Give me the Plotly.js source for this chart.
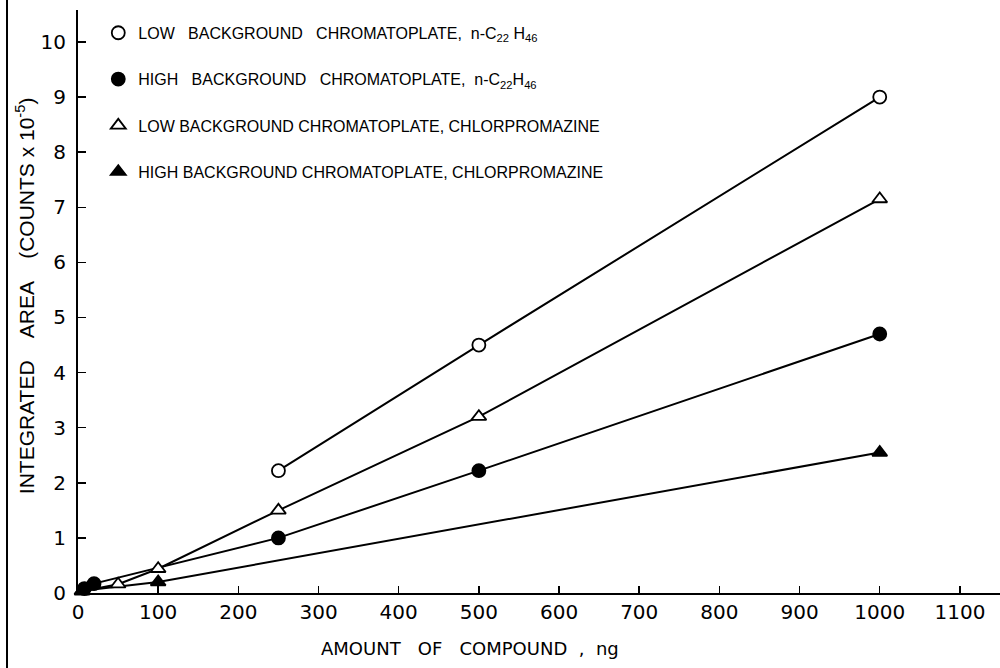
<!DOCTYPE html>
<html>
<head>
<meta charset="utf-8">
<script src="https://cdn.plot.ly/plotly-3.0.1.min.js"></script>
<style>html,body{margin:0;padding:0;background:#fff;}#chart{width:1000px;height:668px;}</style>
</head>
<body>
<div id="chart"></div>
<script>
// Data
var seriesNames = [
  "LOW   BACKGROUND   CHROMATOPLATE,  n-C<sub>22</sub> H<sub>46</sub>",
  "HIGH   BACKGROUND   CHROMATOPLATE,  n-C<sub>22</sub>H<sub>46</sub>",
  "LOW BACKGROUND CHROMATOPLATE, CHLORPROMAZINE",
  "HIGH BACKGROUND CHROMATOPLATE, CHLORPROMAZINE"
];
var lowC22_x = [250, 500, 1000];
var lowC22_y = [2.22, 4.5, 9.0];
var highC22_x = [8, 20, 250, 500, 1000];
var highC22_y = [0.08, 0.17, 1.0, 2.22, 4.7];
var lowCPZ_x = [5, 50, 100, 250, 500, 1000];
var lowCPZ_y = [0.03, 0.16, 0.44, 1.5, 3.2, 7.15];
var highCPZ_x = [5, 100, 1000];
var highCPZ_y = [0.04, 0.2, 2.55];

var xTicks = [0,100,200,300,400,500,600,700,800,900,1000,1100];
var xTickText = ["0","100","200","300","400","500","600","700","800","900","1000","1100"];
var yTicks = [0,1,2,3,4,5,6,7,8,9,10];
var yTickText = ["0","1","2","3","4","5","6","7","8","9","10"];

var xs = [lowC22_x, highC22_x, lowCPZ_x, highCPZ_x];
var ys = [lowC22_y, highC22_y, lowCPZ_y, highCPZ_y];
var symbols = ["circle", "circle", "triangle-up", "triangle-up"];
var fills = ["white", "black", "white", "black"];

var traces = [];
for (var i = 0; i < 4; i++) {
  traces.push({
    x: xs[i], y: ys[i], mode: "lines", type: "scatter",
    line: {color: "black", width: 2}, showlegend: false, hoverinfo: "skip",
    cliponaxis: false
  });
}
for (var j = 0; j < 4; j++) {
  traces.push({
    x: xs[j], y: ys[j], mode: "markers", type: "scatter", name: seriesNames[j],
    legendgroup: "g" + j,
    marker: {symbol: symbols[j], size: 13, color: fills[j], line: {color: "black", width: 1.8}},
    cliponaxis: false
  });
}

var layout = {
  width: 1000, height: 668,
  margin: {l: 78, r: 0, t: 10, b: 75},
  paper_bgcolor: "white", plot_bgcolor: "white",
  font: {family: "DejaVu Sans, sans-serif", color: "black"},
  showlegend: true,
  legend: {
    x: 0.022, y: 0.99, xanchor: "left", yanchor: "top",
    font: {family: "Liberation Sans, Arial, sans-serif", size: 16, color: "black"},
    tracegroupgap: 22.5, bgcolor: "rgba(0,0,0,0)", borderwidth: 0
  },
  xaxis: {
    range: [0, 1150], tickvals: xTicks, ticktext: xTickText,
    ticks: "inside", ticklen: 7, tickwidth: 1.5, tickcolor: "black",
    showline: true, linecolor: "black", linewidth: 2,
    showgrid: false, zeroline: false,
    tickfont: {family: "DejaVu Sans, sans-serif", size: 20, color: "black"}
  },
  yaxis: {
    range: [0, 10.58], tickvals: yTicks, ticktext: yTickText,
    ticks: "inside", ticklen: 8, tickwidth: 1.5, tickcolor: "black",
    showline: true, linecolor: "black", linewidth: 2,
    showgrid: false, zeroline: false, ticklabelstandoff: 6,
    tickfont: {family: "DejaVu Sans, sans-serif", size: 20, color: "black"}
  },
  annotations: [
    {
      text: "INTEGRATED    AREA    (COUNTS x 10<sup>-5</sup>)",
      xref: "paper", yref: "paper", x: -0.058, y: 0.51, textangle: -90,
      showarrow: false, xanchor: "center", yanchor: "middle",
      font: {family: "Liberation Sans, Arial, sans-serif", size: 21, color: "black"}
    },
    {
      text: "AMOUNT   OF   COMPOUND  ,  ng",
      xref: "paper", yref: "paper", x: 0.425, y: -0.095,
      showarrow: false, xanchor: "center", yanchor: "middle",
      font: {family: "DejaVu Sans, sans-serif", size: 18, color: "black"}
    }
  ],
  shapes: [
    {type: "line", xref: "paper", yref: "paper", x0: -0.077, x1: -0.077, y0: -0.13, y1: 1.02,
     line: {color: "black", width: 2}}
  ]
};

Plotly.newPlot("chart", traces, layout, {displayModeBar: false, staticPlot: true});
</script>
</body>
</html>
